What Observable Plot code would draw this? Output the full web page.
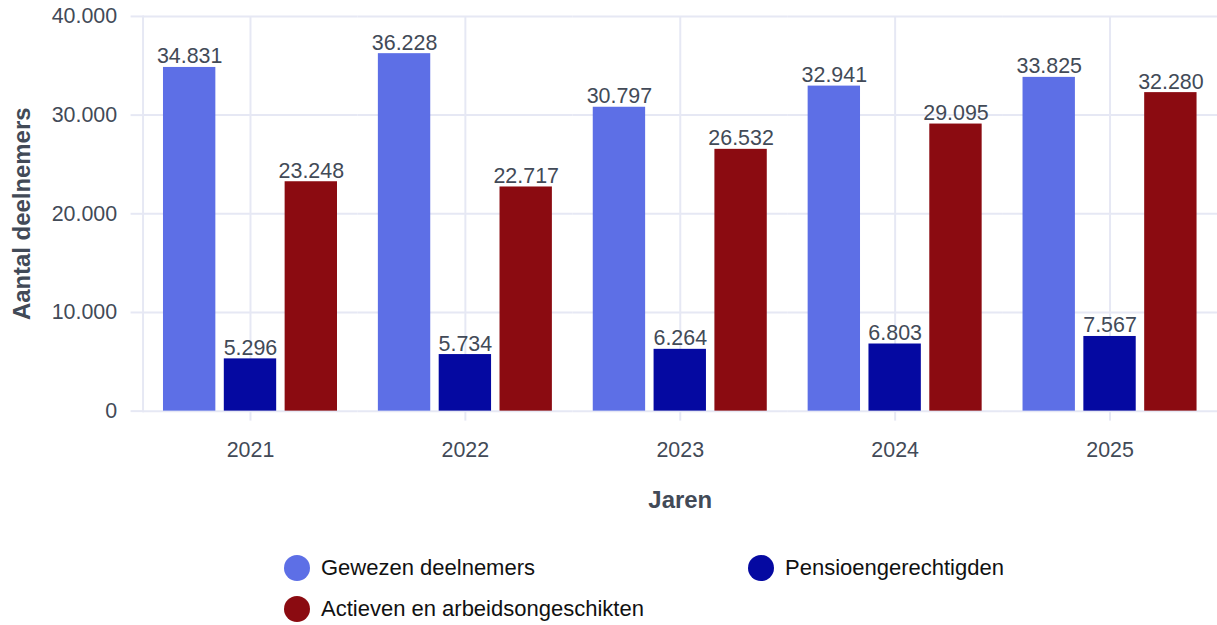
<!DOCTYPE html>
<html><head><meta charset="utf-8">
<script src="https://cdn.jsdelivr.net/npm/d3@7"></script>
<script src="https://cdn.jsdelivr.net/npm/@observablehq/plot@0.6"></script>
<style>
html,body{margin:0;padding:0;overflow:hidden;background:#fff;font-family:"Liberation Sans",Arial,sans-serif;}
#chart svg{display:block;}
#legend{display:grid;grid-template-columns:464px auto;grid-auto-rows:41px;align-items:center;padding-left:284px;margin-top:19px;font-size:22px;color:#111;width:900px;}
.item{display:flex;align-items:center;white-space:nowrap;}
.sw{width:26px;height:26px;border-radius:50%;margin-right:11px;flex:none;}
</style></head><body>
<div id="chart"></div>
<div id="legend"></div>
<script>
const years = ["2021", "2022", "2023", "2024", "2025"];
const series = ["Gewezen deelnemers", "Pensioengerechtigden", "Actieven en arbeidsongeschikten"];
const gewezen = [34831, 36228, 30797, 32941, 33825];
const pensioen = [5296, 5734, 6264, 6803, 7567];
const actieven = [23248, 22717, 26532, 29095, 32280];
const colors = ["#5d6fe6", "#0509a1", "#8b0b11"];
const yTicks = [0, 10000, 20000, 30000, 40000];
const yLabel = "Aantal deelnemers";
const xLabel = "Jaren";

const gridColor = "#e6e8f4";
const textColor = "#424a57";
const nl = d3.formatLocale({decimal: ",", thousands: ".", grouping: [3], currency: ["€", ""]});
const fmt = nl.format(",d");

const values = [gewezen, pensioen, actieven];
const data = [];
years.forEach((yr, i) => series.forEach((s, j) => data.push({year: yr, series: s, value: values[j][i]})));

const chart = Plot.plot({
  width: 1221,
  height: 530,
  marginLeft: 143,
  marginRight: 0,
  marginTop: 16,
  marginBottom: 118,
  style: {fontFamily: "'Liberation Sans', Arial, sans-serif", fontSize: "21.5px", color: textColor, background: "#fff", overflow: "visible"},
  fx: {domain: years, padding: 0, round: false},
  x: {domain: series, paddingInner: 0.139, paddingOuter: 0.336, round: false, axis: null},
  y: {domain: [0, 40000]},
  color: {domain: series, range: colors},
  marks: [
    Plot.gridY(yTicks, {stroke: gridColor, strokeOpacity: 1, strokeWidth: 2}),
    Plot.frame({anchor: "left", facetAnchor: "left", stroke: gridColor, strokeWidth: 2}),
    Plot.ruleX(years, {fx: d => d, x: () => series[1], stroke: gridColor, strokeWidth: 2}),
    Plot.axisY(yTicks, {anchor: "left", tickSize: 12, tickPadding: 14, stroke: gridColor, strokeWidth: 2, fill: textColor, tickFormat: fmt, fontSize: 21.5, label: null}),
    Plot.axisFx({anchor: "bottom", tickSize: 10, tickPadding: 21, stroke: gridColor, strokeWidth: 2, fill: textColor, fontSize: 21.5, label: null}),
    Plot.barY(data, {fx: "year", x: "series", y: "value", fill: "series"}),
    Plot.text(data, {fx: "year", x: "series", y: "value", text: d => fmt(d.value), lineAnchor: "bottom", dy: -4, fill: textColor, fontSize: 21.5}),
    Plot.text([yLabel], {facetAnchor: "left", frameAnchor: "left", textAnchor: "middle", lineAnchor: "middle", rotate: -90, dx: -121, fontWeight: "bold", fontSize: 24, fill: textColor}),
    Plot.text([xLabel], {fx: () => years[Math.floor(years.length / 2)], frameAnchor: "bottom", textAnchor: "middle", lineAnchor: "middle", dy: 89, fontWeight: "bold", fontSize: 24, fill: textColor})
  ]
});
document.getElementById("chart").appendChild(chart);

const legend = document.getElementById("legend");
series.forEach((s, j) => {
  const it = document.createElement("div");
  it.className = "item";
  const sw = document.createElement("span");
  sw.className = "sw";
  sw.style.background = colors[j];
  const lb = document.createElement("span");
  lb.textContent = s;
  it.appendChild(sw);
  it.appendChild(lb);
  legend.appendChild(it);
});
</script>
</body></html>
